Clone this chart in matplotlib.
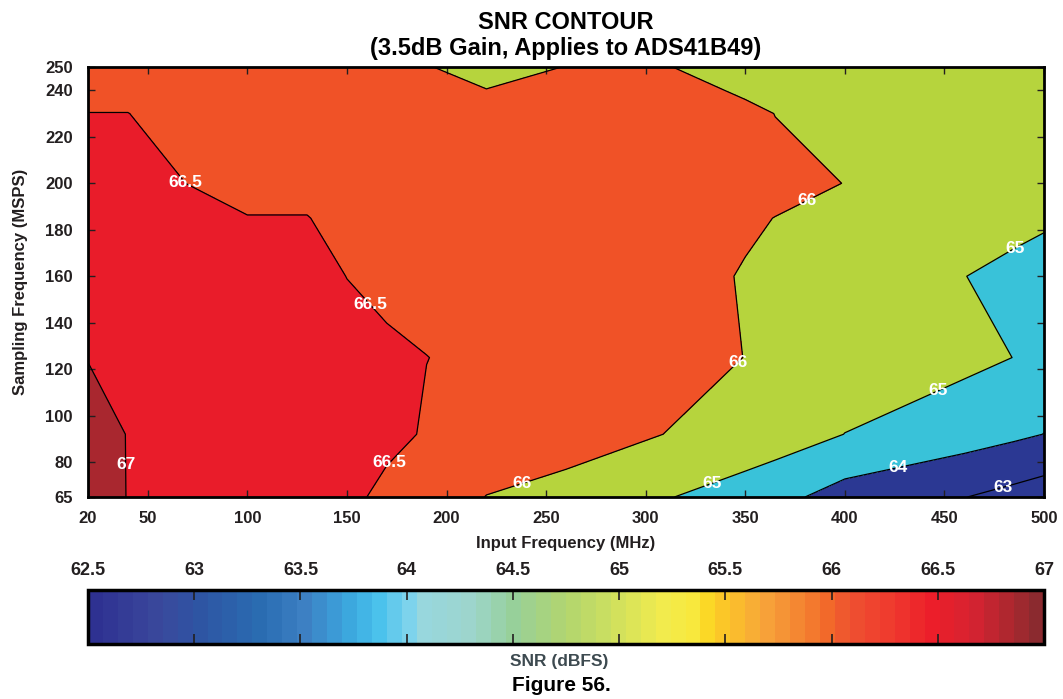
import numpy as np
import matplotlib
matplotlib.use('Agg')
from matplotlib import pyplot as plt
from matplotlib.colors import LinearSegmentedColormap, Normalize
from matplotlib.cm import ScalarMappable

plt.rcParams['font.family'] = ['Liberation Sans', 'DejaVu Sans']
plt.rcParams['font.weight'] = 'bold'

# measurement grid (input frequency in MHz, sampling frequency in MSPS)
fin = [20, 40, 70, 100, 130, 150, 170, 190, 220, 260, 310, 350, 365, 400, 460, 485, 500]
fs = [65, 92, 125, 160, 185, 200, 230, 240, 250]

# SNR (dBFS), one row per sampling frequency
snr_65 = [67.2, 66.99, 66.95, 66.85, 66.8, 66.8, 66.2, 66.3, 65.99, 65.7, 65.05, 64.6, 64.3, 63.6, 63.02, 62.70, 62.49]
snr_92 = [67.15, 66.99, 66.9, 66.9, 66.9, 66.9, 66.8, 66.4, 66.3, 66.38, 65.99, 65.57, 65.49, 64.99, 64.43, 64.17, 63.99]
snr_125 = [66.99, 66.9, 66.85, 66.8, 66.8, 66.8, 66.72, 66.51, 66.3, 66.3, 66.3, 65.99, 65.8, 65.5, 65.22, 64.99, 64.5]
snr_160 = [66.9, 66.9, 66.85, 66.8, 66.8, 66.49, 66.2, 66.2, 66.2, 66.3, 66.3, 65.95, 65.8, 65.5, 65.01, 64.8, 64.7]
snr_185 = [66.85, 66.85, 66.8, 66.52, 66.52, 66.3, 66.2, 66.2, 66.2, 66.3, 66.3, 66.1, 65.99, 65.8, 65.3, 65.22, 65.1]
snr_200 = [66.8, 66.8, 66.49, 66.3, 66.3, 66.3, 66.3, 66.3, 66.2, 66.3, 66.3, 66.3, 66.2, 65.99, 65.5, 65.4, 65.3]
snr_230 = [66.51, 66.51, 66.2, 66.2, 66.2, 66.2, 66.2, 66.3, 66.2, 66.3, 66.3, 66.2, 65.99, 65.8, 65.5, 65.4, 65.3]
snr_240 = [66.3, 66.3, 66.2, 66.2, 66.2, 66.2, 66.2, 66.3, 66.01, 66.3, 66.37, 65.87, 65.8, 65.7, 65.5, 65.4, 65.3]
snr_250 = [66.3, 66.3, 66.2, 66.2, 66.2, 66.2, 66.2, 66.02, 65.85, 66.01, 66.02, 65.8, 65.7, 65.7, 65.5, 65.4, 65.3]

contour_levels = [63, 64, 65, 66, 66.5, 67]
fill_levels = [60, 63, 64, 65, 66, 66.5, 67, 70]
fill_colors = ['#2B3893', '#2B3893', '#39C2D9', '#B6D43D', '#F05227', '#E91C2A', '#A9272F']

# where the contour labels sit (MHz, MSPS)
label_spots = [(70, 201), (163, 149), (171, 80), (40, 79), (381, 193), (345, 124),
               (238, 71), (485, 173), (446, 112), (333, 72), (427, 77), (479, 71)]

cbar_ticks = [62.5, 63, 63.5, 64, 64.5, 65, 65.5, 66, 66.5, 67]
cbar_anchors = ['#2E3191', '#3A489C', '#2E55A3', '#2A6DB2', '#3D80C3', '#3BA5DD', '#48C1EC',
                '#7DD3EC', '#97D7DF', '#9DD5CC', '#97D09A', '#B2D56F', '#CBDF60', '#F1EB4E',
                '#F8EA3F', '#FCD31F', '#FBC728', '#F7A43A', '#F37F30', '#F2692A', '#EE5230',
                '#EF3A2E', '#EC1E2A', '#D52331', '#B2272F', '#8B2A2F']
cbar_pos = [62.5, 62.8, 63.0, 63.3, 63.5, 63.7, 63.85, 64.0, 64.05, 64.3, 64.5, 64.75, 64.95,
            65.2, 65.35, 65.45, 65.5, 65.7, 65.9, 66.0, 66.1, 66.3, 66.5, 66.7, 66.85, 67.0]

Z = np.array([snr_65, snr_92, snr_125, snr_160, snr_185, snr_200, snr_230, snr_240, snr_250])
X, Y = np.meshgrid(fin, fs)

fig = plt.figure(figsize=(10.63, 6.99), dpi=100)
ax = fig.add_axes([0.0828, 0.289, 0.8994, 0.615])

ax.contourf(X, Y, Z, levels=fill_levels, colors=fill_colors)
cs = ax.contour(X, Y, Z, levels=contour_levels, colors='black', linewidths=0.9)
labels = ax.clabel(cs, inline=False, fmt='%g', colors='white', fontsize=12.5, manual=label_spots)
for t in labels:
    t.set_rotation(0)
    t.set_fontweight('bold')

ax.set_xlim(20, 500)
ax.set_ylim(65, 250)
ax.set_xticks([20, 50, 100, 150, 200, 250, 300, 350, 400, 450, 500])
ax.set_yticks([65, 80, 100, 120, 140, 160, 180, 200, 220, 240, 250])
ax.tick_params(direction='in', top=True, right=True, length=5, width=1,
               labelsize=12, colors='#231F20', pad=10)
ax.tick_params(axis='y', pad=11)
for s in ax.spines.values():
    s.set_linewidth(2)
ax.set_xlabel('Input Frequency (MHz)', fontsize=12, fontweight='bold', color='#231F20', labelpad=7)
ax.set_ylabel('Sampling Frequency (MSPS)', fontsize=12, fontweight='bold', color='#231F20', labelpad=12)
ax.set_title('SNR CONTOUR\n(3.5dB Gain, Applies to ADS41B49)', fontsize=17, fontweight='bold',
             linespacing=1.12, pad=9)

cmap = LinearSegmentedColormap.from_list(
    'snr', list(zip([(p - 62.5) / 4.5 for p in cbar_pos], cbar_anchors)), N=64)
cax = fig.add_axes([0.0828, 0.0787, 0.8994, 0.0773])
cb = fig.colorbar(ScalarMappable(norm=Normalize(62.5, 67), cmap=cmap), cax=cax,
                  orientation='horizontal', ticks=cbar_ticks)
cb.ax.set_xticklabels([f'{v:g}' for v in cbar_ticks])
cax.tick_params(direction='in', top=True, bottom=True, labeltop=True, labelbottom=False,
                length=7, width=1.2, labelsize=13, colors='#231F20', pad=8)
cb.outline.set_linewidth(2.5)
fig.text(0.526, 0.053, 'SNR (dBFS)', ha='center', va='center', fontsize=12.5,
         fontweight='bold', color='#3D4A50')
fig.text(0.528, 0.02, 'Figure 56.', ha='center', va='center', fontsize=15, fontweight='bold')

fig.savefig('out.png', dpi=100)
